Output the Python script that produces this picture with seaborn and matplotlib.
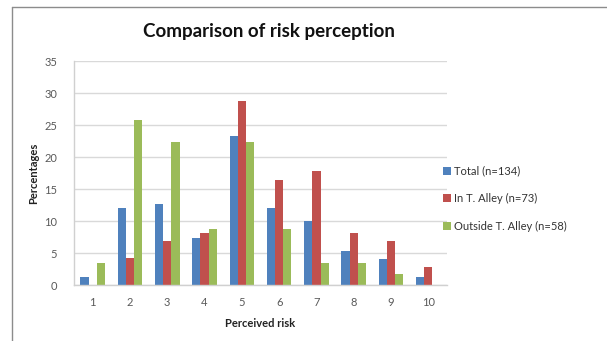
import pandas as pd
import numpy as np
import seaborn as sns
import matplotlib.pyplot as plt
from matplotlib.lines import Line2D

# values (percent)
risk = [1, 2, 3, 4, 5, 6, 7, 8, 9, 10]
total = [1.3, 12.0, 12.7, 7.3, 23.3, 12.0, 10.0, 5.3, 4.0, 1.3]
in_alley = [0.0, 4.2, 6.9, 8.2, 28.8, 16.4, 17.8, 8.2, 6.9, 2.8]
outside_alley = [3.5, 25.8, 22.4, 8.7, 22.4, 8.7, 3.5, 3.5, 1.7, 0.0]
series_names = ["Total (n=134)", "In T. Alley (n=73)", "Outside T. Alley (n=58)"]
colors = ["#4F81BD", "#C0504D", "#9BBB59"]

data = pd.DataFrame({
    "risk": risk * 3,
    "pct": total + in_alley + outside_alley,
    "group": [series_names[0]] * 10 + [series_names[1]] * 10 + [series_names[2]] * 10,
})

sns.set_theme(style="white")
plt.rcParams["font.family"] = ["Lato", "DejaVu Sans"]

fig = plt.figure(figsize=(6.07, 3.41), dpi=100)
ax = fig.add_axes([74 / 607, 56 / 341, 373 / 607, 224 / 341])

sns.barplot(data=data, x="risk", y="pct", hue="group", hue_order=series_names,
            palette=colors, width=0.66, saturation=1, ax=ax, linewidth=0)

ax.set_ylim(0, 35)
ax.set_yticks(range(0, 36, 5))
ax.yaxis.grid(True, color="#D9D9D9", linewidth=1)
ax.set_axisbelow(True)
for s in ["top", "right"]:
    ax.spines[s].set_visible(False)
for s in ["left", "bottom"]:
    ax.spines[s].set_color("#D0D0D0")
    ax.spines[s].set_linewidth(1)
ax.tick_params(axis="both", length=0, labelsize=8, labelcolor="#595959", pad=9)
ax.tick_params(axis="y", pad=12)

ax.set_xlabel("Perceived risk", fontsize=8, fontweight="bold", color="#222222", labelpad=7)
ax.set_ylabel("Percentages", fontsize=8, fontweight="bold", color="#222222", labelpad=4)

fig.text(269 / 607, 1 - 31 / 341, "Comparison of risk perception", ha="center", va="center",
         fontsize=13.5, fontweight="bold", color="#111111")

ax.legend(loc="center left", bbox_to_anchor=(0.99, 0.385), frameon=False, fontsize=8,
          handlelength=0.7, handleheight=0.7, handletextpad=0.3, labelspacing=1.5,
          borderaxespad=0, borderpad=0, labelcolor="#333333")

# outer chart frame (clipped by the image)
fig.add_artist(Line2D([12 / 607, 12 / 607], [0, 1 - 7 / 341], transform=fig.transFigure,
                      color="#8C8C8C", linewidth=1))
fig.add_artist(Line2D([12 / 607, 1], [1 - 7 / 341, 1 - 7 / 341], transform=fig.transFigure,
                      color="#8C8C8C", linewidth=1))

fig.savefig("out.png", dpi=100)
